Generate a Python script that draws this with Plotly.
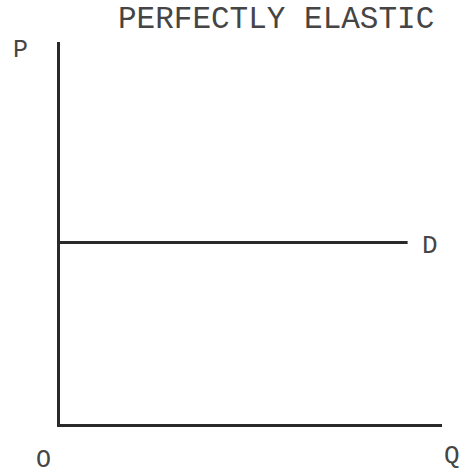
import plotly.graph_objects as go

# Perfectly elastic demand: a constant price at every quantity
quantity = [0, 9.1]
price = [4.75, 4.75]

x_range = [0, 10]
y_range = [0, 10]

title_text = "PERFECTLY ELASTIC"
axis_labels = {"P": "P", "Q": "Q", "O": "O"}
curve_label = "D"

ink = "#2a2a2a"
text_ink = "#454545"
font_family = "Liberation Mono, Courier New, monospace"

fig = go.Figure()
fig.add_trace(go.Scatter(
    x=quantity, y=price, mode="lines",
    line=dict(color=ink, width=3), hoverinfo="skip", showlegend=False,
))

W, H = 463, 475
ml, mr, mt, mb = 60, 21, 42, 51

fig.update_layout(
    width=W, height=H,
    margin=dict(l=ml, r=mr, t=mt, b=mb),
    paper_bgcolor="white", plot_bgcolor="white",
    showlegend=False,
    xaxis=dict(range=x_range, showline=True, linecolor=ink, linewidth=3,
               showgrid=False, zeroline=False, showticklabels=False, ticks=""),
    yaxis=dict(range=y_range, showline=True, linecolor=ink, linewidth=3,
               showgrid=False, zeroline=False, showticklabels=False, ticks=""),
)

def px_to_paper(px, py):
    return (px - ml) / (W - ml - mr), (H - mb - py) / (H - mt - mb)

def label(text, px, py, size):
    x, y = px_to_paper(px, py)
    fig.add_annotation(text=text, x=x, y=y, xref="paper", yref="paper",
                       showarrow=False, xanchor="center", yanchor="middle",
                       font=dict(family=font_family, size=size, color=text_ink))

label(title_text, 276, 19, 31)
label(axis_labels["P"], 20, 50, 25)
label(axis_labels["O"], 43, 460, 25)
label(axis_labels["Q"], 452, 456, 26)

# Curve label placed just beyond the end of the demand line
fig.add_annotation(text=curve_label, x=quantity[-1], y=price[-1],
                   xref="x", yref="y", showarrow=False,
                   xanchor="left", yanchor="middle", xshift=12, yshift=-3,
                   font=dict(family=font_family, size=26, color=text_ink))

fig.write_html("out.html")
